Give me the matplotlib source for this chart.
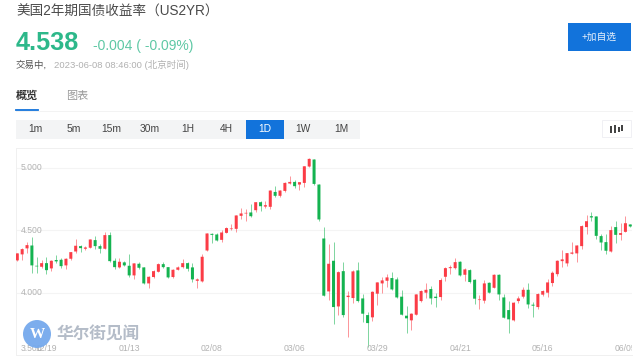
import matplotlib
matplotlib.use('Agg')
import matplotlib.pyplot as plt
from matplotlib.patches import Rectangle, Circle

plt.rcParams['font.family'] = ['Liberation Sans', 'Noto Sans CJK SC', 'DejaVu Sans']

# daily candles
opens = [4.258, 4.306, 4.354, 4.377, 4.215, 4.207, 4.236, 4.194, 4.261, 4.263,
         4.218, 4.271, 4.329, 4.372, 4.351, 4.359, 4.420, 4.372, 4.351, 4.460,
         4.255, 4.202, 4.242, 4.215, 4.138, 4.231, 4.202, 4.074, 4.125, 4.167,
         4.228, 4.204, 4.125, 4.183, 4.204, 4.236, 4.202, 4.095, 4.090, 4.337,
         4.470, 4.465, 4.422, 4.478, 4.508, 4.510, 4.614, 4.633, 4.641, 4.659,
         4.723, 4.688, 4.686, 4.805, 4.774, 4.813, 4.872, 4.885, 4.864, 4.877,
         5.008, 5.064, 4.864, 4.433, 4.010, 4.255, 3.890, 4.172, 3.965, 3.957,
         4.178, 3.954, 3.821, 3.803, 3.992, 4.074, 4.095, 4.117, 4.106, 3.968,
         3.816, 3.779, 3.824, 3.933, 4.000, 4.029, 3.968, 3.965, 4.127, 4.196,
         4.196, 4.247, 4.143, 4.180, 4.103, 3.941, 3.936, 4.079, 4.039, 4.143,
         3.962, 3.861, 3.779, 3.933, 3.968, 4.023, 3.904, 3.885, 3.984, 4.000,
         4.077, 4.148, 4.252, 4.234, 4.311, 4.314, 4.372, 4.524, 4.611, 4.609,
         4.452, 4.404, 4.329, 4.524, 4.462, 4.486, 4.545]
highs = [4.319, 4.354, 4.401, 4.441, 4.287, 4.258, 4.287, 4.261, 4.300, 4.274,
         4.274, 4.329, 4.428, 4.380, 4.372, 4.430, 4.452, 4.388, 4.484, 4.486,
         4.281, 4.274, 4.250, 4.306, 4.234, 4.247, 4.207, 4.133, 4.180, 4.234,
         4.247, 4.207, 4.188, 4.212, 4.266, 4.244, 4.236, 4.114, 4.306, 4.478,
         4.473, 4.473, 4.497, 4.521, 4.547, 4.622, 4.675, 4.667, 4.707, 4.728,
         4.731, 4.734, 4.824, 4.851, 4.819, 4.885, 4.936, 4.904, 4.888, 5.013,
         5.074, 5.066, 4.867, 4.524, 4.391, 4.401, 4.170, 4.247, 4.015, 4.180,
         4.247, 3.992, 3.845, 4.013, 4.087, 4.122, 4.148, 4.164, 4.127, 4.018,
         3.893, 3.837, 3.989, 4.018, 4.074, 4.055, 3.994, 4.119, 4.202, 4.220,
         4.276, 4.252, 4.194, 4.186, 4.109, 3.984, 4.101, 4.085, 4.148, 4.148,
         3.989, 3.936, 3.925, 3.973, 4.047, 4.074, 3.928, 3.994, 4.021, 4.106,
         4.175, 4.261, 4.340, 4.321, 4.401, 4.383, 4.537, 4.622, 4.646, 4.614,
         4.468, 4.465, 4.534, 4.574, 4.553, 4.609, 4.550]
lows = [4.255, 4.261, 4.314, 4.154, 4.159, 4.199, 4.151, 4.170, 4.239, 4.194,
        4.188, 4.261, 4.314, 4.327, 4.340, 4.354, 4.345, 4.321, 4.348, 4.247,
        4.188, 4.196, 4.210, 4.125, 4.109, 4.188, 4.069, 4.039, 4.119, 4.162,
        4.194, 4.119, 4.119, 4.178, 4.194, 4.175, 4.082, 4.039, 4.082, 4.332,
        4.399, 4.412, 4.404, 4.473, 4.502, 4.486, 4.587, 4.574, 4.606, 4.643,
        4.651, 4.680, 4.670, 4.768, 4.768, 4.808, 4.869, 4.837, 4.819, 4.845,
        5.002, 4.864, 4.574, 3.973, 3.941, 3.747, 3.821, 3.803, 3.648, 3.920,
        3.928, 3.768, 3.563, 3.776, 3.904, 3.997, 4.042, 4.021, 3.957, 3.821,
        3.678, 3.699, 3.819, 3.928, 3.960, 3.909, 3.888, 3.944, 4.095, 4.151,
        4.191, 4.133, 4.093, 4.079, 3.906, 3.869, 3.920, 3.994, 4.034, 3.941,
        3.795, 3.675, 3.773, 3.920, 3.960, 3.874, 3.808, 3.872, 3.976, 3.968,
        4.055, 4.135, 4.202, 4.212, 4.308, 4.247, 4.351, 4.468, 4.569, 4.430,
        4.340, 4.308, 4.324, 4.399, 4.420, 4.481, 4.521]
closes = [4.314, 4.348, 4.380, 4.218, 4.210, 4.236, 4.180, 4.255, 4.250, 4.212,
          4.271, 4.324, 4.375, 4.356, 4.361, 4.425, 4.372, 4.351, 4.460, 4.252,
          4.204, 4.247, 4.218, 4.138, 4.234, 4.199, 4.074, 4.127, 4.172, 4.228,
          4.204, 4.122, 4.183, 4.202, 4.236, 4.191, 4.106, 4.106, 4.287, 4.473,
          4.462, 4.417, 4.481, 4.516, 4.513, 4.617, 4.633, 4.638, 4.611, 4.723,
          4.691, 4.699, 4.816, 4.774, 4.816, 4.877, 4.885, 4.851, 4.883, 5.010,
          5.069, 4.869, 4.585, 3.976, 4.231, 3.885, 4.164, 3.821, 3.976, 4.170,
          3.933, 3.832, 3.757, 4.007, 4.082, 4.098, 4.122, 4.026, 3.962, 3.824,
          3.795, 3.832, 3.986, 4.013, 4.023, 3.954, 3.957, 4.101, 4.196, 4.204,
          4.244, 4.138, 4.186, 4.085, 3.952, 3.946, 4.074, 4.000, 4.143, 3.986,
          3.800, 3.787, 3.920, 3.954, 4.023, 3.906, 3.896, 3.989, 4.013, 4.082,
          4.159, 4.255, 4.266, 4.316, 4.321, 4.377, 4.532, 4.571, 4.601, 4.454,
          4.401, 4.335, 4.500, 4.462, 4.476, 4.555, 4.529]

date_pos = [6, 23, 40, 57, 74, 91, 108, 125]
date_labels = ['12/19', '01/13', '02/08', '03/06', '03/29', '04/21', '05/16', '06/05']
price_ticks = [5.0, 4.5, 4.0, 3.5]
price_labels = ['5.000', '4.500', '4.000', '3.500']
periods = ['1m', '5m', '15m', '30m', '1H', '4H', '1D', '1W', '1M']

RED = '#fb3c46'
GREEN = '#14b350'
W, H = 640, 361

fig = plt.figure(figsize=(6.4, 3.61), dpi=100, facecolor='white')

# chart panel, box in pixels
x0, x1, y0, y1 = 16, 632, 148, 355
ax = fig.add_axes([x0 / W, 1 - y1 / H, (x1 - x0) / W, (y1 - y0) / H])
ax.set_xlim(-0.267, 126.35)
ax.set_ylim(3.502, 5.156)
for s in ax.spines.values():
    s.set_color('#f0f0f0')
    s.set_linewidth(0.7)
ax.spines['right'].set_visible(False)
ax.tick_params(length=0, labelleft=False, labelbottom=False)
ax.set_xticks([])
ax.set_yticks(price_ticks[:3])
ax.grid(axis='y', color='#f4f4f4', lw=0.8)
ax.set_axisbelow(True)

for i in range(len(opens)):
    color = RED if closes[i] >= opens[i] else GREEN
    ax.vlines(i, lows[i], highs[i], color=color, lw=0.7, alpha=0.55, zorder=2)
    bars = ax.bar(i, abs(closes[i] - opens[i]), bottom=min(opens[i], closes[i]), width=0.62,
                  color=color, linewidth=0, zorder=3)
    bars[0].set_snap(False)

for val, lab in zip(price_ticks, price_labels):
    dy = 5 if val == 3.5 else 0
    ax.annotate(lab, xy=(0, val), xycoords=('axes fraction', 'data'), xytext=(3.3, dy),
                textcoords='offset points', fontsize=6.2, color='#b2b2b2', va='center')
for pos, lab in zip(date_pos, date_labels):
    t = ax.annotate(lab, xy=(pos, 0), xycoords=('data', 'axes fraction'), xytext=(0, 5),
                    textcoords='offset points', fontsize=6.2, color='#b2b2b2', ha='center',
                    va='center', annotation_clip=False)
    t.set_clip_on(True)
    t.set_clip_box(ax.bbox)

# page furniture in pixel coordinates, over the chart
ui = fig.add_axes([0, 0, 1, 1], zorder=5)
ui.set_xlim(0, W)
ui.set_ylim(H, 0)
ui.axis('off')
ui.patch.set_alpha(0)

ui.text(16, 12, '美国2年期国债收益率（US2YR）', fontsize=9.8, color='#4a4a4a', va='center')
ui.text(16, 43, '4.538', fontsize=18.2, fontweight='bold', color='#2db88a', va='center')
ui.text(93, 46, '-0.004 ( -0.09%)', fontsize=10, color='#5fc8a5', va='center')
ui.text(16, 65, '交易中,', fontsize=6.8, color='#555555', va='center')
ui.text(54, 65, '2023-06-08 08:46:00 (北京时间)', fontsize=6.8, color='#b0b0b0', va='center')

ui.text(16, 96, '概览', fontsize=8, fontweight='bold', color='#333333', va='center')
ui.text(66, 96, '图表', fontsize=8, color='#999999', va='center')
ui.plot([16, 632], [110.5, 110.5], color='#f3f3f3', lw=0.7)
ui.plot([16, 38], [109.5, 109.5], color='#1273db', lw=1.3)

ui.add_patch(Rectangle((16, 120), 344, 19, color='#f3f4f5', lw=0))
ui.add_patch(Rectangle((246, 120), 38, 19, color='#1273db', lw=0))
for k, lab in enumerate(periods):
    ui.text(35 + k * 38.3, 129.5, lab, fontsize=7.4, ha='center', va='center',
            color='white' if lab == '1D' else '#444444')

ui.add_patch(Rectangle((568, 23), 63, 28, color='#1273db', lw=0))
ui.text(599.5, 37, '+加自选', fontsize=7, color='#e8f1fb', ha='center', va='center')

# little candle icon
ui.add_patch(Rectangle((602, 120), 29, 17, facecolor='white', edgecolor='#f0f0f4', lw=0.7))
for cx, top, bot in [(611, 126, 133), (615, 125, 133), (619, 127, 132), (622, 125, 131)]:
    ui.add_patch(Rectangle((cx - 1.2, top), 2.4, bot - top, color='#444444', lw=0))

# watermark
ui.add_patch(Circle((37, 334), 14, color='#75a9ec', alpha=0.95, lw=0))
ui.text(37, 334, 'W', fontsize=11, fontweight='bold', color='white', ha='center', va='center',
        family=['Liberation Serif', 'DejaVu Serif'])
ui.text(57, 334, '华尔街见闻', fontsize=12, fontweight='bold', color='#b4bcc8', va='center',
        family=['Noto Sans CJK SC', 'DejaVu Sans'])

fig.savefig('out.png', dpi=100)
